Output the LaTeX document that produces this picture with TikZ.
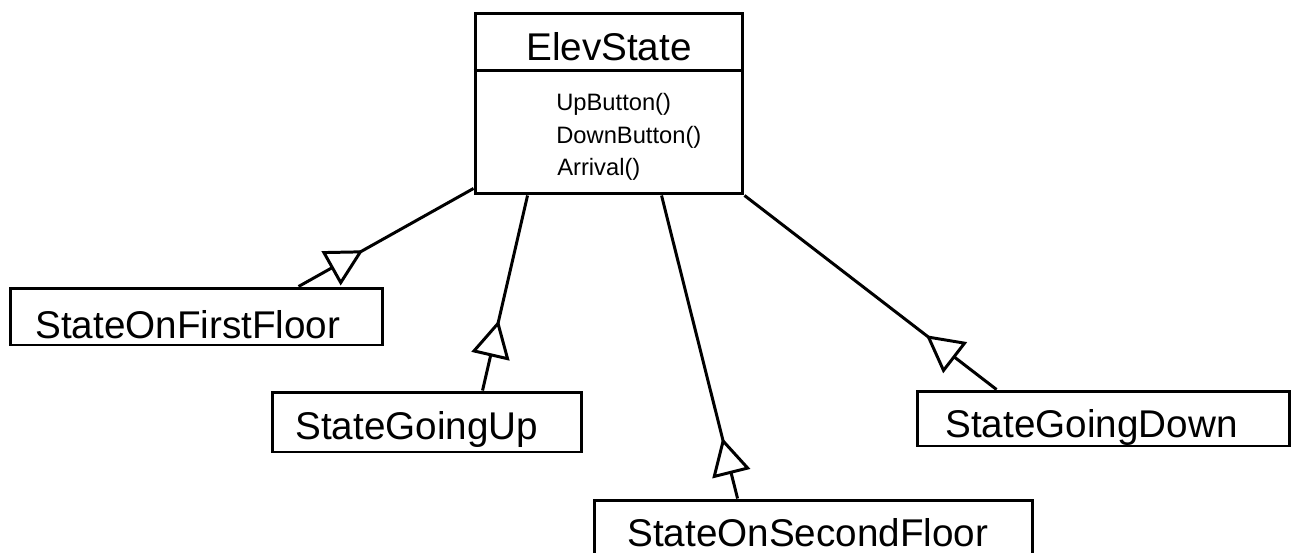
\documentclass[tikz,border=0pt]{standalone}
\usepackage{fontspec}
\setmainfont{Liberation Sans}
\usepackage{tikz}
\usetikzlibrary{arrows.meta}
\usetikzlibrary{decorations.markings}
\usetikzlibrary{calc}
\tikzset{cls/.style = {draw, line width = 1.7pt, inner sep = 0}}
\tikzset{lbl/.style = {inner sep = 0, anchor = base west, font = \fontsize{22}{26}\selectfont}}
\tikzset{meth/.style = {inner sep = 0, anchor = base west, font = \fontsize{13.5}{16}\selectfont}}
\tikzset{inh/.style = {line width = 1.7pt, postaction = {decorate},
    decoration = {markings, mark = at position #1 with
      {\arrow{Triangle[length = 21pt, width = 22pt, fill = white]}}}}}

\begin{document}
\begin{tikzpicture}[x = 0.02cm, y = -0.02cm]
    \useasboundingbox (0, 0) rectangle (1292, 552);

    \node [cls, minimum width = 5.36cm, minimum height = 3.62cm] (elev) at (609, 103.5) {};
    \node [lbl, anchor = base] (elev-txt) at (609, 60) {ElevState};
    \draw [line width = 1.7pt] ($(elev.north west) + (0, 59)$) -- ($(elev.north east) + (0, 59)$);
    \node [meth] (up) at (556, 110) {UpButton()};
    \node [meth] (down) at (556, 143) {DownButton()};
    \node [meth] (arr) at (557, 175) {Arrival()};

    \node [cls, minimum width = 7.46cm, minimum height = 1.14cm] (first) at (196.5, 316.5) {};
    \node [lbl] (first-txt) at (35, 338) {StateOnFirstFloor};

    \node [cls, minimum width = 6.2cm, minimum height = 1.2cm] (goingup) at (427, 422) {};
    \node [lbl] (goingup-txt) at (295, 439) {StateGoingUp};

    \node [cls, minimum width = 7.46cm, minimum height = 1.1cm] (goingdown) at (1103.5, 418.5) {};
    \node [lbl] (goingdown-txt) at (945, 437) {StateGoingDown};

    \node [cls, minimum width = 8.78cm, minimum height = 1.16cm] (second) at (813.5, 529) {};
    \node [lbl] (second-txt) at (627, 546) {StateOnSecondFloor};

    \draw [inh = 0.37] ($(first.north west) + (290, 0)$) -- ($(elev.south west) + (0, -7)$);
    \draw [inh = 0.36] ($(goingup.north west) + (212, 0)$) -- ($(elev.south west) + (54, 0)$);
    \draw [inh = 0.2] ($(second.north west) + (145, 0)$) -- ($(elev.south west) + (188, 0)$);
    \draw [inh = 0.28] ($(goingdown.north west) + (81, 0)$) -- (elev.south east);
  \end{tikzpicture}
\end{document}
